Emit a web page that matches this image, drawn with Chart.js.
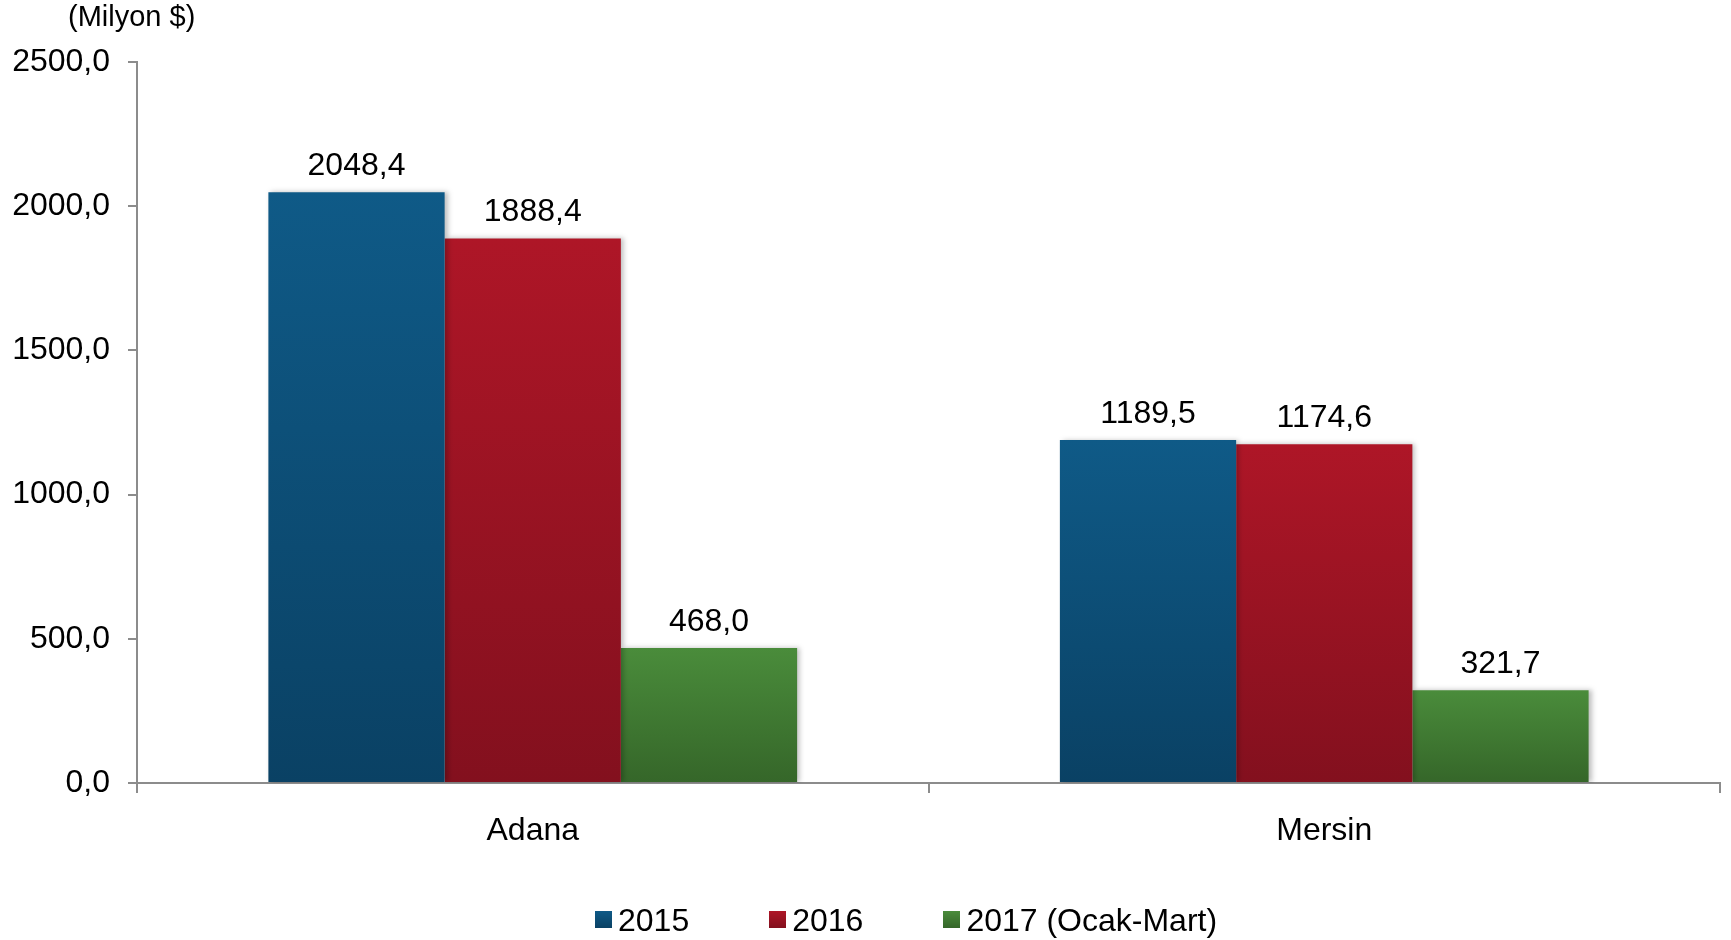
<!DOCTYPE html>
<html>
<head>
<meta charset="utf-8">
<script src="https://cdn.jsdelivr.net/npm/chart.js@4/dist/chart.umd.min.js"></script>
<style>
  html, body { margin: 0; padding: 0; background: #fff; }
  #wrap { position: relative; width: 1731px; height: 940px; }
  #unit {
    position: absolute; left: 68px; top: 2px;
    font: 29px "Liberation Sans", Arial, sans-serif; line-height: 29px; color: #000;
  }
  #legend {
    position: absolute; left: 595px; top: 902px;
    display: flex; gap: 80px; align-items: center;
    font: 32px "Liberation Sans", Arial, sans-serif;
    line-height: 36px; color: #000;
  }
  #legend .item { display: flex; align-items: center; }
  #legend .box { width: 17px; height: 17px; margin-right: 6px; margin-top: -2px; }
</style>
</head>
<body>
<div id="wrap">
  <canvas id="grafico" width="1731" height="940"></canvas>
  <div id="unit">(Milyon $)</div>
  <div id="legend"></div>
</div>
<script>
// dados
const categorias = ["Adana", "Mersin"];
const series = ["2015", "2016", "2017 (Ocak-Mart)"];
const valores2015 = [2048.4, 1189.5];
const valores2016 = [1888.4, 1174.6];
const valores2017 = [468.0, 321.7];
const ticksY = [0, 500, 1000, 1500, 2000, 2500];

// cores (topo / base do gradiente)
const coresTopo = ["#0f5a87", "#ae1627", "#4a8c3b"];
const coresBase = ["#0a4164", "#83101e", "#356629"];

const fmt = v => v.toFixed(1).replace(".", ",");

function gradiente(i) {
  return function (ctx) {
    const chart = ctx.chart;
    if (!chart.chartArea || ctx.raw === undefined) return coresTopo[i];
    const y = chart.scales.y;
    const top = y.getPixelForValue(ctx.raw);
    const base = y.getPixelForValue(0);
    const g = chart.ctx.createLinearGradient(0, top, 0, base);
    g.addColorStop(0, coresTopo[i]);
    g.addColorStop(1, coresBase[i]);
    return g;
  };
}

// sombra leve nas barras + rótulos de valor
const sombra = {
  id: "sombra",
  beforeDatasetsDraw(chart) {
    const c = chart.ctx;
    c.save();
    c.shadowColor = "rgba(0,0,0,0.25)";
    c.shadowBlur = 5;
    c.shadowOffsetX = 3;
    c.shadowOffsetY = 0;
  },
  afterDatasetsDraw(chart) {
    chart.ctx.restore();
    const c = chart.ctx;
    c.save();
    c.font = '32px "Liberation Sans", Arial, sans-serif';
    c.fillStyle = "#000";
    c.textAlign = "center";
    c.textBaseline = "alphabetic";
    chart.data.datasets.forEach((ds, i) => {
      chart.getDatasetMeta(i).data.forEach((bar, j) => {
        c.fillText(fmt(ds.data[j]), bar.x, bar.y - 17);
      });
    });
    c.restore();
  }
};

const dadosSeries = [valores2015, valores2016, valores2017];

new Chart(document.getElementById("grafico"), {
  type: "bar",
  data: {
    labels: categorias,
    datasets: series.map((nome, i) => ({
      label: nome,
      data: dadosSeries[i],
      backgroundColor: gradiente(i),
      borderWidth: 0,
      barPercentage: 1,
      categoryPercentage: 0.668
    }))
  },
  options: {
    responsive: false,
    animation: false,
    devicePixelRatio: 1,
    layout: { padding: { top: 62, right: 11, bottom: 0, left: 0 } },
    plugins: { legend: { display: false }, tooltip: { enabled: false } },
    scales: {
      x: {
        grid: { drawOnChartArea: false, drawTicks: true, tickLength: 10, color: "#8c8c8c", lineWidth: 2, offset: true },
        border: { color: "#8c8c8c", width: 2 },
        ticks: { color: "#000", padding: 19, font: { family: '"Liberation Sans", Arial, sans-serif', size: 32 } },
        afterFit(scale) { scale.height = 157; }
      },
      y: {
        min: 0,
        max: 2500,
        afterBuildTicks(scale) { scale.ticks = ticksY.map(v => ({ value: v })); },
        grid: { drawOnChartArea: false, drawTicks: true, tickLength: 9, color: "#8c8c8c", lineWidth: 2 },
        border: { color: "#8c8c8c", width: 2 },
        ticks: {
          color: "#000",
          padding: 18,
          font: { family: '"Liberation Sans", Arial, sans-serif', size: 32 },
          callback: v => fmt(v)
        },
        afterFit(scale) { scale.width = 137; }
      }
    }
  },
  plugins: [sombra]
});

// legenda em HTML
const legenda = document.getElementById("legend");
series.forEach((nome, i) => {
  const item = document.createElement("div");
  item.className = "item";
  const box = document.createElement("span");
  box.className = "box";
  box.style.background = "linear-gradient(" + coresTopo[i] + "," + coresBase[i] + ")";
  const txt = document.createElement("span");
  txt.textContent = nome;
  item.appendChild(box);
  item.appendChild(txt);
  legenda.appendChild(item);
});
</script>
</body>
</html>
